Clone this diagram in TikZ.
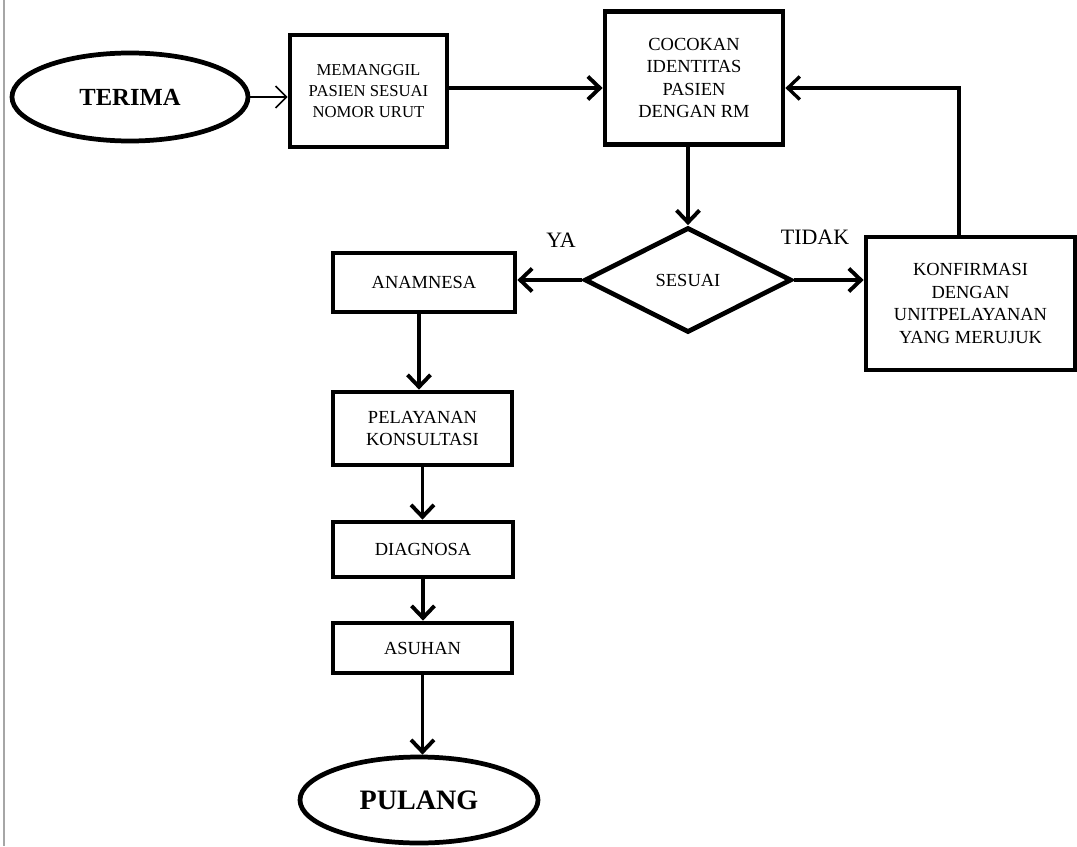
\documentclass[tikz,border=0pt]{standalone}
\usepackage{fontspec}
\setmainfont{Liberation Serif}
\usetikzlibrary{shapes.geometric}
\usetikzlibrary{arrows.meta}

\begin{document}
\begin{tikzpicture}[
    box/.style={draw, line width=2.7pt, rectangle, align=center, inner sep=2pt,
                font=\fontsize{10.5}{12.8}\selectfont},
    term/.style={draw, line width=2.7pt, ellipse, font=\bfseries},
    decision/.style={draw, line width=2.7pt, diamond, inner sep=0pt,
                     font=\fontsize{10.5}{12.8}\selectfont},
    arr/.style={line width=2.2pt, -{Straight Barb[length=2.4mm,width=4.6mm]}},
    lbl/.style={font=\fontsize{12.5}{14}\selectfont}]
  \useasboundingbox (0,0) rectangle (21.54,-16.92);
  \draw[gray!70, line width=0.8pt] (0.08,0) -- (0.08,-16.92);

  % Nodes
  \node[term, minimum width=4.72cm, minimum height=1.76cm, font=\bfseries\fontsize{14}{16}\selectfont] (terima) at (2.6,-1.94) {TERIMA};
  \node[box, minimum width=3.14cm, minimum height=2.24cm, font=\fontsize{9.5}{12}\selectfont] (panggil) at (7.37,-1.82) {MEMANGGIL\\PASIEN SESUAI\\NOMOR URUT};
  \node[box, minimum width=3.56cm, minimum height=2.66cm] (cocok) at (13.88,-1.56) {COCOKAN\\IDENTITAS\\PASIEN\\DENGAN RM};
  \node[decision, minimum width=4.14cm, minimum height=2.1cm] (sesuai) at (13.76,-5.6) {SESUAI};
  \node[box, minimum width=4.18cm, minimum height=2.66cm] (konfirmasi) at (19.41,-6.07) {KONFIRMASI\\DENGAN\\UNITPELAYANAN\\YANG MERUJUK};
  \node[box, minimum width=3.64cm, minimum height=1.18cm] (anamnesa) at (8.48,-5.65) {ANAMNESA};
  \node[box, minimum width=3.58cm, minimum height=1.46cm] (pelayanan) at (8.45,-8.57) {PELAYANAN\\KONSULTASI};
  \node[box, minimum width=3.6cm, minimum height=1.1cm] (diagnosa) at (8.46,-10.99) {DIAGNOSA};
  \node[box, minimum width=3.58cm, minimum height=1.0cm] (asuhan) at (8.45,-12.96) {ASUHAN};
  \node[term, minimum width=4.76cm, minimum height=1.72cm, font=\bfseries\fontsize{16}{18}\selectfont] (pulang) at (8.38,-16.0) {PULANG};
  \node[lbl] (ya) at (11.22,-4.8) {YA};
  \node[lbl] (tidak) at (16.3,-4.74) {TIDAK};

  % Arrows
  \draw[line width=0.9pt, -{Straight Barb[length=2.2mm,width=4.4mm]}] (terima.east) -- (terima.east -| panggil.west);
  \draw[arr] ([yshift=0.06cm]panggil.east) -- ([yshift=0.06cm]panggil.east -| cocok.west);
  \draw[arr] (cocok.south -| sesuai.north) -- (sesuai.north);
  \draw[arr] (sesuai.east) -- (sesuai.east -| konfirmasi.west);
  \draw[arr] (sesuai.west) -- (sesuai.west -| anamnesa.east);
  \draw[arr, line width=1.9pt] ([xshift=-0.23cm]konfirmasi.north) |- ([yshift=-0.2cm]cocok.east);
  \draw[arr] ([xshift=-0.1cm]anamnesa.south) -- ([xshift=-0.1cm]anamnesa.south |- pelayanan.north);
  \draw[arr] (pelayanan.south) -- (pelayanan.south |- diagnosa.north);
  \draw[arr] (diagnosa.south) -- (diagnosa.south |- asuhan.north);
  \draw[arr] (asuhan.south) -- (asuhan.south |- pulang.north);
\end{tikzpicture}
\end{document}
